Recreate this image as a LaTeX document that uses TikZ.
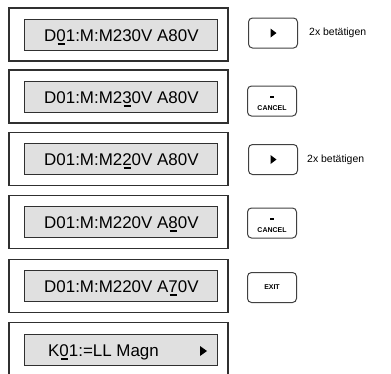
\documentclass[tikz,border=0pt]{standalone}
\usepackage{fontspec}
\setmainfont{Liberation Sans}
\usepackage{tikz}
\usetikzlibrary{positioning}
\definecolor{PanelLine}{HTML}{303030}
\definecolor{LcdGray}{HTML}{E0E0E0}
\definecolor{KeyLine}{HTML}{404040}

% cursor mark under one character of the display
\newcommand{\curmark}[1]{\setbox0=\hbox{#1}\rlap{\hbox to\wd0{\hss\rule[-3.8bp]{7bp}{2.2bp}\hss}}#1}

\begin{document}
\begin{tikzpicture}[x=1bp, y=-1bp,
  panel/.style={draw=PanelLine, line width=1.2bp, minimum width=219bp,
                minimum height=53bp, inner sep=0pt},
  lcd/.style={draw=PanelLine, line width=1bp, fill=LcdGray,
              minimum width=192bp, minimum height=31bp, inner sep=0pt},
  disp/.style={font=\fontsize{17}{20}\selectfont, inner sep=0pt,
               anchor=base west},
  key/.style={draw=KeyLine, line width=1bp, rounded corners=4bp,
              minimum width=49bp, minimum height=30bp, inner sep=0pt},
  keytxt/.style={font=\fontsize{7}{8}\selectfont\bfseries, inner sep=0pt},
  note/.style={font=\fontsize{10.5}{12}\selectfont, anchor=west, inner sep=0pt}
]
\useasboundingbox (0,0) rectangle (391,374);
\clip (0,0) rectangle (391,374);

% Step 1
\node[panel] (p1) at (118.5,34.5) {};
\node[lcd] (l1) at (121,34.5) {};
\node[disp] (t1) at (44,41) {D\curmark{0}1:M:M230V A80V};
\node[key] (k1) at (273,33) {};
\fill[shift={(k1.center)}] (-2.5,-4.5) -- (3.5,0) -- (-2.5,4.5) -- cycle;
\node[note] (n1) at (309,33) {2x betätigen};

% Step 2
\node[panel] (p2) at (118.5,96.5) {};
\node[lcd] (l2) at (121,96.5) {};
\node[disp] (t2) at (44,103) {D01:M:M2\curmark{3}0V A80V};
\node[key] (k2) at (272,101) {};
\node[keytxt] at (272,97) {\rule{3.5bp}{1.6bp}};
\node[keytxt] at (272,108) {CANCEL};

% Step 3
\node[panel] (p3) at (118.5,159) {};
\node[lcd] (l3) at (121,159) {};
\node[disp] (t3) at (44,165.5) {D01:M:M2\curmark{2}0V A80V};
\node[key] (k3) at (273,159.5) {};
\fill[shift={(k3.center)}] (-2.5,-4.5) -- (3.5,0) -- (-2.5,4.5) -- cycle;
\node[note] (n3) at (307,160) {2x betätigen};

% Step 4
\node[panel] (p4) at (118.5,222) {};
\node[lcd] (l4) at (121,222) {};
\node[disp] (t4) at (44,228.5) {D01:M:M220V A\curmark{8}0V};
\node[key] (k4) at (272,223) {};
\node[keytxt] at (272,219) {\rule{3.5bp}{1.6bp}};
\node[keytxt] at (272,230) {CANCEL};

% Step 5
\node[panel] (p5) at (118.5,286) {};
\node[lcd] (l5) at (121,286) {};
\node[disp] (t5) at (44,292.5) {D01:M:M220V A\curmark{7}0V};
\node[key] (k5) at (272,287.5) {};
\node[keytxt] at (272,287.5) {EXIT};

% Result
\node[panel] (p6) at (118.5,349) {};
\node[lcd] (l6) at (121,350) {};
\node[disp] (t6) at (48,356.5) {K\curmark{0}1:=LL Magn};
\fill (200,346) -- (207,351) -- (200,356) -- cycle;

\end{tikzpicture}
\end{document}
